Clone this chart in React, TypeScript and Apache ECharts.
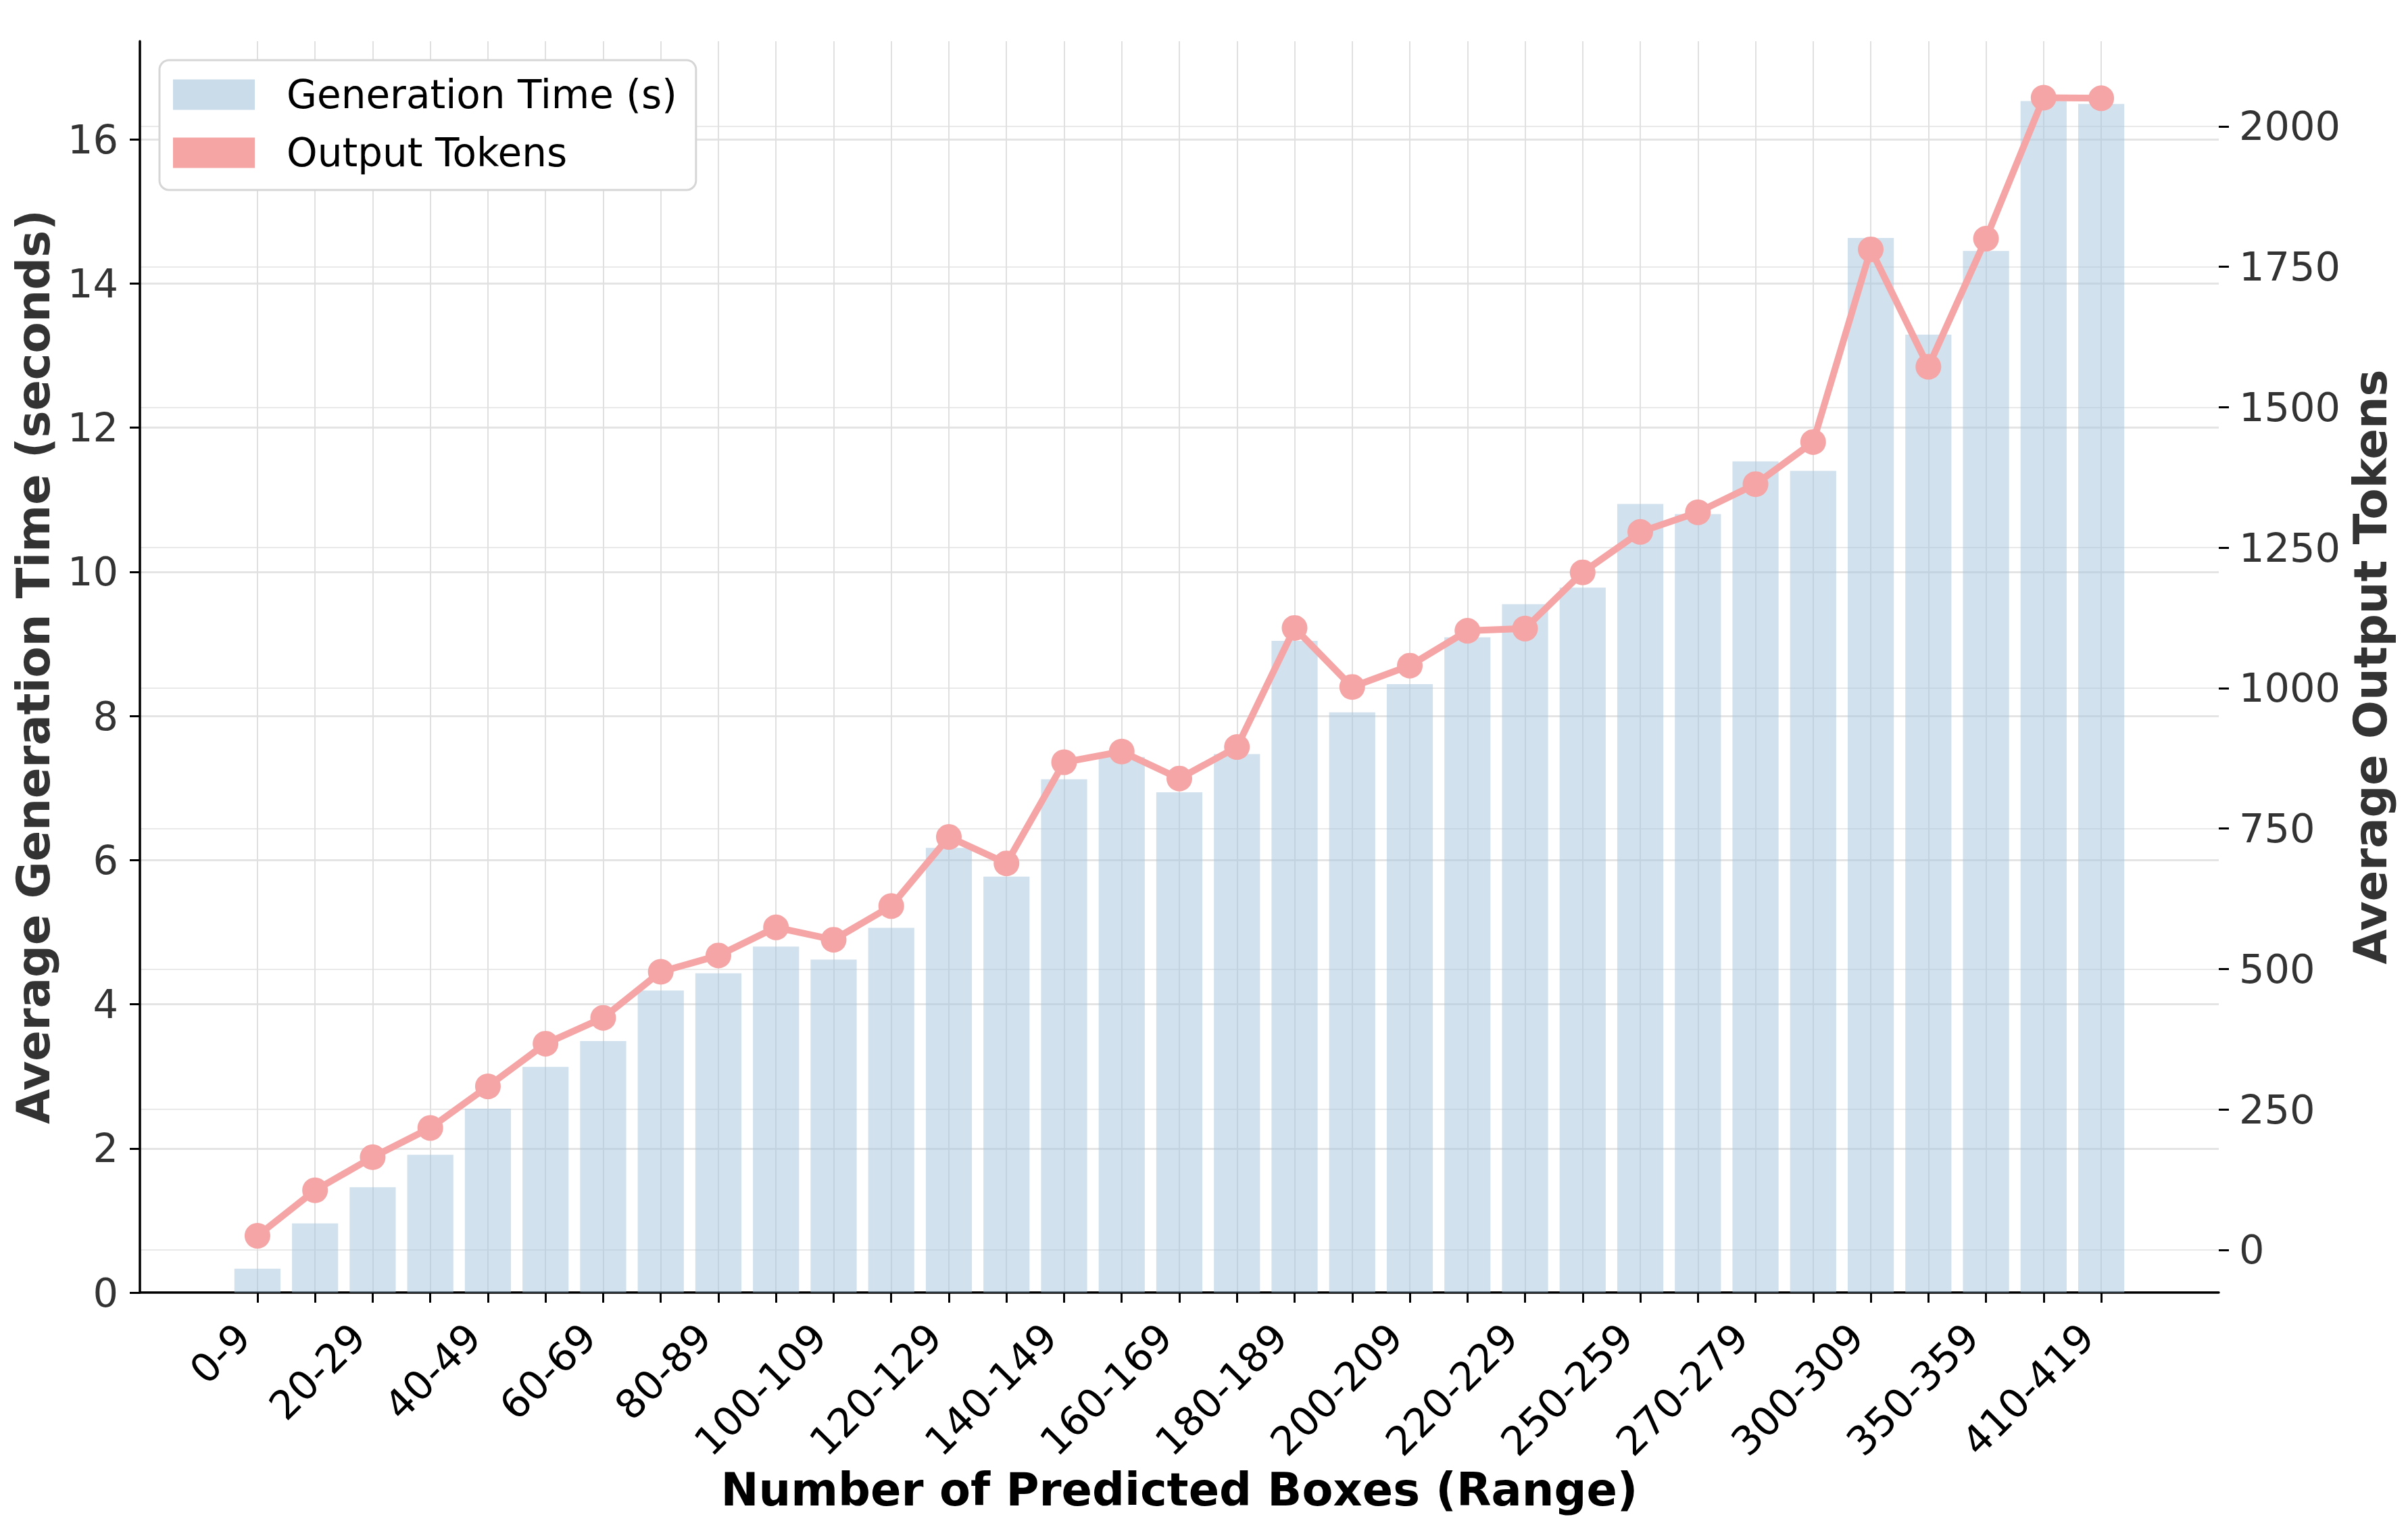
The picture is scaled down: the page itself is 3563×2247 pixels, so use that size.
import React, { useEffect, useRef } from 'react';
import * as echarts from 'echarts';

const categories = [
  '0-9', '10-19', '20-29', '30-39', '40-49', '50-59', '60-69', '70-79', '80-89', '90-99',
  '100-109', '110-119', '120-129', '130-139', '140-149', '150-159', '160-169', '170-179',
  '180-189', '190-199', '200-209', '210-219', '220-229', '230-239', '250-259', '260-269',
  '270-279', '290-299', '300-309', '330-339', '350-359', '380-389', '410-419',
];

const generationTime = [
  0.33, 0.96, 1.46, 1.91, 2.55, 3.13, 3.49, 4.19, 4.43, 4.80,
  4.62, 5.06, 6.17, 5.77, 7.12, 7.43, 6.94, 7.47, 9.04, 8.05,
  8.44, 9.09, 9.55, 9.78, 10.94, 10.80, 11.53, 11.40, 14.63, 13.29,
  14.45, 16.53, 16.49,
];

const outputTokens = [
  25, 106, 165, 217, 291, 367, 413, 495, 524, 574,
  552, 612, 735, 688, 868, 887, 839, 895, 1107, 1002,
  1040, 1102, 1106, 1206, 1278, 1313, 1363, 1438, 1781, 1572,
  1800, 2051, 2050,
];

const leftTicks = [0, 2, 4, 6, 8, 10, 12, 14, 16];
const rightTicks = [0, 250, 500, 750, 1000, 1250, 1500, 1750, 2000];

export default function App() {
  const ref = useRef<HTMLDivElement>(null);

  useEffect(() => {
    document.body.style.margin = '0';
    const W = 3563;
    const H = 2247;
    const chart = echarts.init(ref.current as HTMLDivElement, null, {
      renderer: 'svg',
      width: W,
      height: H,
    });

    const gridLeft = 207;
    const gridRight = 280;
    const gridTop = 61;
    const gridBottom = 335;
    const xMin = -2.04;
    const xMax = 34.04;
    const plotW = W - gridLeft - gridRight;
    const barW = (plotW / (xMax - xMin)) * 0.8;
    const idx = categories.map((_, i) => i);
    const labelIdx = idx.filter((i) => i % 2 === 0);

    const barColor = 'rgba(164,196,220,0.5)';
    const lineColor = '#f5a5a5';
    const tickFont = 59;
    const titleFont = 67;

    chart.setOption({
      animation: false,
      backgroundColor: '#ffffff',
      textStyle: { fontFamily: 'DejaVu Sans' },
      grid: { left: gridLeft, right: gridRight, top: gridTop, bottom: gridBottom, containLabel: false },
      legend: {
        left: 236,
        top: 89,
        orient: 'vertical',
        backgroundColor: '#ffffff',
        borderColor: '#d6d6d6',
        borderWidth: 3,
        borderRadius: 14,
        padding: [22, 28, 26, 20],
        itemWidth: 121,
        itemHeight: 45,
        itemGap: 28,
        textStyle: { fontSize: 58, color: '#000000', fontFamily: 'DejaVu Sans', padding: [0, 0, 0, 42] },
        data: [
          { name: 'Generation Time (s)', icon: 'rect', itemStyle: { color: '#cadcea', borderWidth: 0 } },
          { name: 'Output Tokens', icon: 'rect', itemStyle: { color: '#f6a5a5', borderWidth: 0 } },
        ],
      },
      xAxis: {
        type: 'value',
        min: xMin,
        max: xMax,
        name: 'Number of Predicted Boxes (Range)',
        nameLocation: 'middle',
        nameGap: 250,
        nameTextStyle: { fontSize: titleFont, fontWeight: 'bold', color: '#000000', fontFamily: 'DejaVu Sans' },
        axisLine: { show: true, onZero: false, lineStyle: { color: '#000000', width: 3.5 } },
        axisTick: { show: true, length: 15, lineStyle: { color: '#000000', width: 3 }, customValues: idx },
        axisLabel: {
          customValues: labelIdx,
          formatter: (v: number) => categories[Math.round(v)] ?? '',
          rotate: 45,
          fontSize: tickFont,
          color: '#000000',
          fontFamily: 'DejaVu Sans',
          margin: 35,
          padding: [0, 30, 0, 0],
        },
        splitLine: { show: true, lineStyle: { color: '#e0e0e0', width: 2 } },
      },
      yAxis: [
        {
          type: 'value',
          position: 'left',
          min: 0,
          max: 17.36,
          name: 'Average Generation Time (seconds)',
          nameLocation: 'middle',
          nameGap: 124,
          nameRotate: 90,
          nameTextStyle: { fontSize: titleFont, fontWeight: 'bold', color: '#333333', fontFamily: 'DejaVu Sans' },
          axisLine: { show: true, onZero: false, lineStyle: { color: '#000000', width: 3.5 } },
          axisTick: { show: true, length: 15, lineStyle: { color: '#000000', width: 3 }, customValues: leftTicks },
          axisLabel: {
            customValues: leftTicks,
            formatter: (v: number) => String(v),
            fontSize: tickFont,
            color: '#333333',
            margin: 32,
            fontFamily: 'DejaVu Sans',
          },
          splitLine: { show: true, lineStyle: { color: '#e4e4e4', width: 3 } },
        },
        {
          type: 'value',
          position: 'right',
          min: -76,
          max: 2151.5,
          name: 'Average Output Tokens',
          nameLocation: 'middle',
          nameGap: 186,
          nameRotate: 90,
          nameTextStyle: { fontSize: titleFont, fontWeight: 'bold', color: '#333333', fontFamily: 'DejaVu Sans' },
          axisLine: { show: true, onZero: false, lineStyle: { color: '#000000', width: 0, opacity: 0 } },
          axisTick: { show: true, length: 15, lineStyle: { color: '#000000', width: 3 }, customValues: rightTicks },
          axisLabel: {
            customValues: rightTicks,
            formatter: (v: number) => String(v),
            fontSize: tickFont,
            color: '#333333',
            margin: 30,
            fontFamily: 'DejaVu Sans',
          },
          splitLine: { show: true, lineStyle: { color: '#e9e9e9', width: 2 } },
        },
      ],
      series: [
        {
          name: 'Generation Time (s)',
          type: 'bar',
          xAxisIndex: 0,
          yAxisIndex: 0,
          barWidth: barW,
          itemStyle: { color: barColor },
          data: idx.map((i) => [i, generationTime[i]]),
          z: 2,
        },
        {
          name: 'Output Tokens',
          type: 'line',
          xAxisIndex: 0,
          yAxisIndex: 1,
          symbol: 'circle',
          symbolSize: 38,
          lineStyle: { width: 10, color: lineColor },
          itemStyle: { color: lineColor },
          data: idx.map((i) => [i, outputTokens[i]]),
          z: 3,
        },
      ],
    });

    return () => {
      chart.dispose();
    };
  }, []);

  return <div ref={ref} style={{ width: 3563, height: 2247 }} />;
}
